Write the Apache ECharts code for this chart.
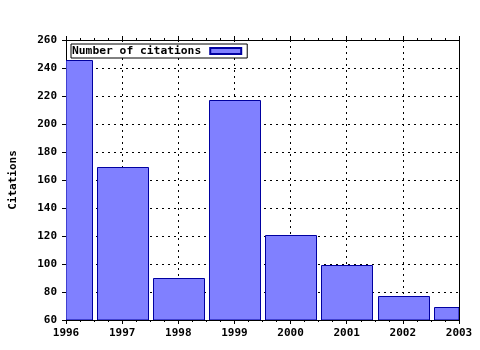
<!DOCTYPE html>
<html>
<head>
<meta charset="utf-8">
<script src="https://cdn.jsdelivr.net/npm/echarts@6/dist/echarts.min.js"></script>
<style>html,body{margin:0;padding:0;background:#fff}#c{width:480px;height:350px}</style>
</head>
<body>
<div id="c"></div>
<script>
var years = [1996, 1997, 1998, 1999, 2000, 2001, 2002, 2003];
var citations = [246, 169, 90, 217, 121, 99, 77, 69];
var seriesName = 'Number of citations';
var yTitle = 'Citations';
var barFraction = 0.9;

var FONT = '"DejaVu Sans Mono", monospace';
var data = years.map(function (y, i) { return [y, citations[i]]; });
var chart = echarts.init(document.getElementById('c'), null, {renderer: 'canvas'});

var tickCommon = {show: true, inside: false, length: 4, lineStyle: {color: '#000', width: 1}};
var minorCommon = {show: true, splitNumber: 4, length: 2, lineStyle: {color: '#000', width: 1}};

chart.setOption({
  animation: false,
  backgroundColor: '#fff',
  grid: {left: 65, right: 21, top: 40, bottom: 30, show: false},
  legend: {
    show: true,
    left: 71, top: 44,
    align: 'right',
    orient: 'horizontal',
    backgroundColor: '#fff',
    borderColor: '#000', borderWidth: 1,
    padding: [1, 5, 1, 1],
    itemWidth: 31, itemHeight: 6,
    icon: 'rect',
    textStyle: {fontFamily: FONT, fontWeight: 'bold', fontSize: 11.3, color: '#000', padding: [0, 4, 0, 0], lineHeight: 12},
    data: [seriesName]
  },
  xAxis: [{
    type: 'value', position: 'bottom', min: 1996, max: 2003, interval: 1,
    axisLine: {show: true, lineStyle: {color: '#000', width: 1}},
    axisTick: tickCommon,
    minorTick: minorCommon,
    axisLabel: {fontFamily: FONT, fontWeight: 'bold', fontSize: 11, color: '#000', margin: 8,
      formatter: function (v) { return String(v); }},
    splitLine: {show: true, lineStyle: {color: '#000', width: 1, type: [2, 4]}}
  }, {
    type: 'value', position: 'top', min: 1996, max: 2003, interval: 1,
    axisLine: {show: true, onZero: false, lineStyle: {color: '#000', width: 1}},
    axisTick: tickCommon,
    minorTick: minorCommon,
    axisLabel: {show: false},
    splitLine: {show: false}
  }],
  yAxis: [{
    type: 'value', position: 'left', min: 60, max: 260, interval: 20,
    name: yTitle, nameLocation: 'middle', nameGap: 47, nameRotate: 90,
    nameTextStyle: {fontFamily: FONT, fontWeight: 'bold', fontSize: 11, color: '#000'},
    axisLine: {show: true, lineStyle: {color: '#000', width: 1}},
    axisTick: tickCommon,
    axisLabel: {fontFamily: FONT, fontWeight: 'bold', fontSize: 11, color: '#000', margin: 9},
    splitLine: {show: true, lineStyle: {color: '#000', width: 1, type: [2, 4]}}
  }, {
    type: 'value', position: 'right', min: 60, max: 260, interval: 20,
    axisLine: {show: true, onZero: false, lineStyle: {color: '#000', width: 1}},
    axisTick: {show: false}, axisLabel: {show: false}, splitLine: {show: false}
  }],
  series: [{
    name: seriesName,
    type: 'custom',
    xAxisIndex: 0, yAxisIndex: 0,
    clip: true,
    z: 3,
    itemStyle: {color: '#8080ff', borderColor: '#0000a0', borderWidth: 1},
    encode: {x: 0, y: 1},
    data: data,
    renderItem: function (params, api) {
      var x = api.value(0), v = api.value(1);
      var p0 = api.coord([x - barFraction / 2, v]);
      var p1 = api.coord([x + barFraction / 2, 60]);
      var rect = {x: Math.round(p0[0]) + 0.5, y: Math.round(p0[1]) + 0.5,
        width: Math.round(p1[0] - p0[0]), height: Math.round(p1[1] - p0[1])};
      var clipped = echarts.graphic.clipRectByRect(rect, {
        x: params.coordSys.x, y: params.coordSys.y,
        width: params.coordSys.width, height: params.coordSys.height
      });
      if (!clipped) return;
      return {type: 'rect', shape: clipped,
        style: {fill: '#8080ff', stroke: '#0000a0', lineWidth: 1}};
    }
  }]
});
</script>
</body>
</html>
